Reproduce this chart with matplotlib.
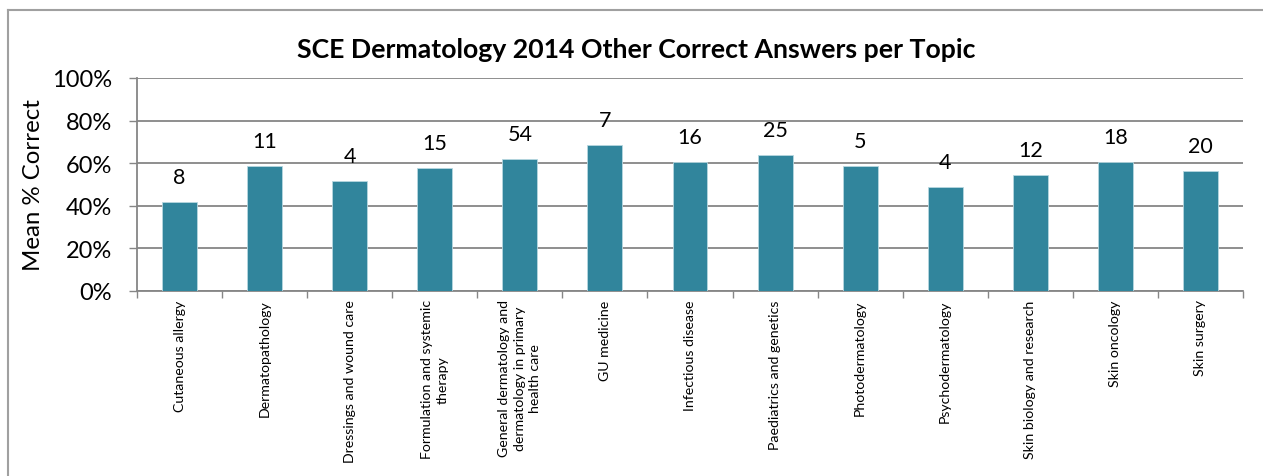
import matplotlib
matplotlib.use("Agg")
import matplotlib.pyplot as plt
from matplotlib.lines import Line2D
from matplotlib.ticker import FuncFormatter

# data
topics = ["Cutaneous allergy", "Dermatopathology", "Dressings and wound care",
          "Formulation and systemic\ntherapy",
          "General dermatology and\ndermatology in primary\nhealth care",
          "GU medicine", "Infectious disease", "Paediatrics and genetics",
          "Photodermatology", "Psychodermatology", "Skin biology and research",
          "Skin oncology", "Skin surgery"]
mean_correct = [41.6, 58.7, 51.6, 57.6, 62.1, 68.7, 60.7, 64.0, 58.8, 49.0, 54.5, 60.6, 56.5]
n_questions = [8, 11, 4, 15, 54, 7, 16, 25, 5, 4, 12, 18, 20]

plt.rcParams['font.family'] = ['Lato', 'DejaVu Sans']
grey = "#868686"
bar_col = "#31859C"

fig = plt.figure(figsize=(12.63, 4.77), dpi=100)
ax = fig.add_axes([137 / 1263, 1 - 292 / 477, 1106 / 1263, 213 / 477])

x = list(range(len(topics)))
ax.bar(x, mean_correct, width=0.41, color=bar_col, edgecolor="#b7d7e0", linewidth=0.6, zorder=3)

for xi, v, n in zip(x, mean_correct, n_questions):
    ax.annotate(str(n), (xi, v), xytext=(0, 19), textcoords="offset pixels",
                ha="center", va="baseline", fontsize=15.5, color="black")

ax.set_xlim(-0.5, len(topics) - 0.5)
ax.set_ylim(0, 100)
ax.set_yticks([0, 20, 40, 60, 80, 100])
ax.yaxis.set_major_formatter(FuncFormatter(lambda v, p: "%d%%" % v))
ax.grid(axis="y", color=grey, linewidth=1.3, zorder=0)

ax.set_xticks([i - 0.5 for i in range(len(topics) + 1)])
ax.set_xticklabels([])
ax.set_xticks(x, minor=True)
ax.set_xticklabels(topics, minor=True, rotation=90, ha="center", va="top",
                   multialignment="center", fontsize=10.2, linespacing=1.35)
ax.tick_params(axis="x", which="minor", length=0, pad=6)
ax.tick_params(axis="x", which="major", length=5, color=grey, width=1)
ax.tick_params(axis="y", length=6, color=grey, width=1, labelsize=17, pad=12)

for s in ["top", "right"]:
    ax.spines[s].set_visible(False)
for s in ["left", "bottom"]:
    ax.spines[s].set_color(grey)
    ax.spines[s].set_linewidth(1.3)

ax.set_ylabel("Mean % Correct", fontsize=17.3, labelpad=6)

fig.text(636 / 1263, 1 - 50 / 477, "SCE Dermatology 2014 Other Correct Answers per Topic",
         ha="center", va="center", fontsize=19.2, fontweight="bold")

# chart frame (cut off at right and bottom)
fx = 7.5 / 1263
fy = 1 - 10.5 / 477
fig.add_artist(Line2D([fx, fx], [0, fy], transform=fig.transFigure, color="#a0a0a0", linewidth=1.5))
fig.add_artist(Line2D([fx, 1], [fy, fy], transform=fig.transFigure, color="#a0a0a0", linewidth=1.5))

fig.savefig("out.png", dpi=100)
